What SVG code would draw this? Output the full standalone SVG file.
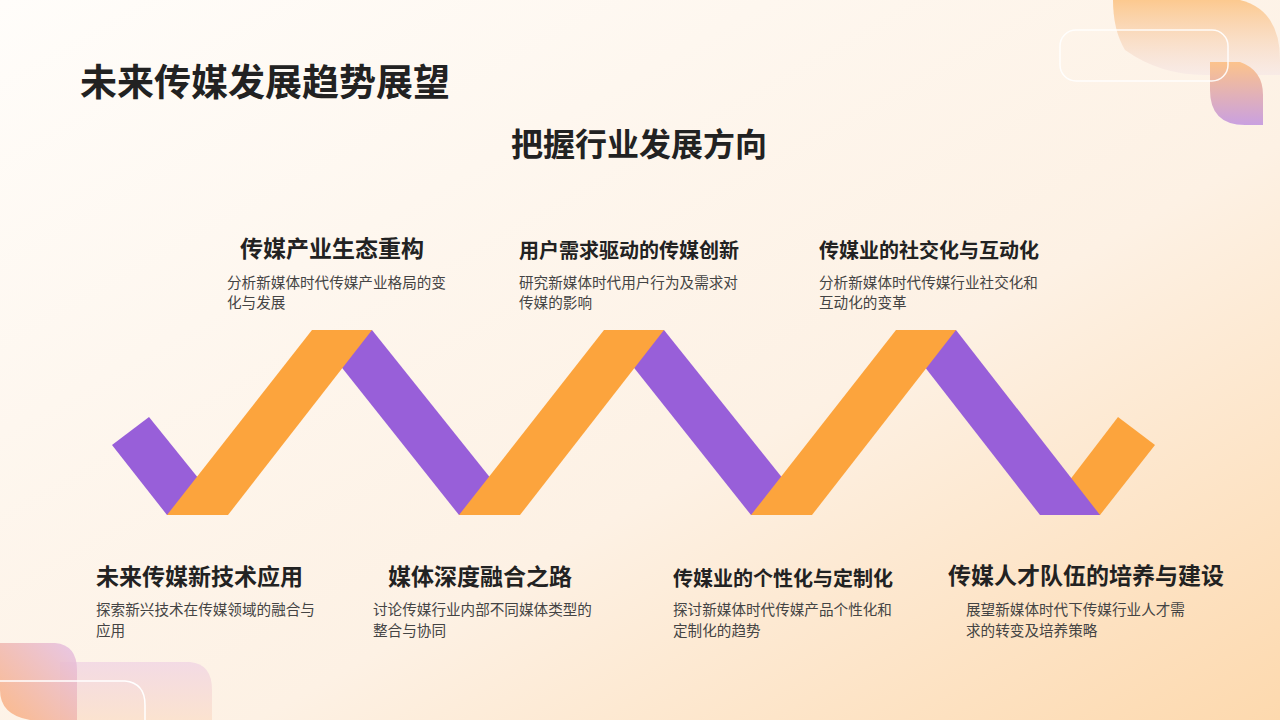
<svg xmlns="http://www.w3.org/2000/svg" width="1280" height="720" viewBox="0 0 1280 720">
<defs>
<linearGradient id="bg" x1="0" y1="0" x2="1" y2="1"><stop offset="0" stop-color="#fffdfa"/><stop offset="0.6" stop-color="#fdf1e4"/><stop offset="1" stop-color="#fdd9ae"/></linearGradient>
<linearGradient id="d1" x1="0" y1="0" x2="0" y2="1"><stop offset="0" stop-color="#fcc98f"/><stop offset="1" stop-color="#f5e6e6" stop-opacity="0.6"/></linearGradient>
<linearGradient id="d2" x1="0" y1="0" x2="0" y2="1"><stop offset="0" stop-color="#fcc38c"/><stop offset="1" stop-color="#c9a0e0"/></linearGradient>
<linearGradient id="d3" x1="1" y1="0" x2="0" y2="1"><stop offset="0" stop-color="#e4bfe6"/><stop offset="1" stop-color="#fbb07a"/></linearGradient>
<linearGradient id="d4" x1="0" y1="0" x2="0" y2="1"><stop offset="0" stop-color="#f2d8e4"/><stop offset="1" stop-color="#fbe1cd"/></linearGradient>
<style>
.t{font-family:"Noto Sans CJK SC","Noto Sans",sans-serif;font-weight:700;fill:#222}
.h{font-family:"Noto Sans CJK SC","Noto Sans",sans-serif;font-weight:700;font-size:23px;fill:#222}
.s{font-size:20px}
.d{font-family:"Noto Sans CJK SC","Noto Sans",sans-serif;font-size:14.6px;fill:#444}
.o{fill:#fca43d}.p{fill:#985fd9}
</style>
</defs>
<rect width="1280" height="720" fill="url(#bg)"/>
<path d="M1113,0 H1240 Q1280,10 1280,60 V75 H1205 Q1160,75 1125,50 Q1113,30 1113,0Z" fill="url(#d1)"/>
<path d="M1210,62 H1240 Q1263,70 1263,95 V125 H1245 Q1210,125 1210,90Z" fill="url(#d2)"/>
<rect x="1060" y="30" width="168" height="51" rx="16" fill="none" stroke="#fff" stroke-width="1.5" opacity="0.9"/>
<path d="M60,662 H190 Q212,664 212,690 V720 H60Z" fill="url(#d4)" opacity="0.9"/>
<path d="M0,643 H55 Q77,645 77,670 V720 H30 Q0,715 0,690Z" fill="url(#d3)" opacity="0.85"/>
<path d="M0,681 H125 Q145,683 145,705 V720" fill="none" stroke="#fff" stroke-width="1.5"/>
<text class="t" x="80" y="96" font-size="37">未来传媒发展趋势展望</text>
<text class="t" x="639" y="156" font-size="32" text-anchor="middle">把握行业发展方向</text>
<g id="connectors">
<polygon class="o" points="1043,515 1100,515 1155,445 1118,417"/>
<polygon class="p" points="112,445 149,417 228,515 167,515"/>
<polygon class="p" points="312,330 372,330 520,515 459,515"/>
<polygon class="p" points="604,330 664,330 812,515 751,515"/>
<polygon class="p" points="896,330 956,330 1100,515 1040,515"/>
<polygon class="o" points="167,515 228,515 372,330 312,330"/>
<polygon class="o" points="459,515 520,515 664,330 604,330"/>
<polygon class="o" points="751,515 812,515 956,330 896,330"/>
</g>
<g id="n1"><text class="h" x="240" y="257">传媒产业生态重构</text><text class="d" x="227" y="288">分析新媒体时代传媒产业格局的变</text><text class="d" x="227" y="308">化与发展</text></g>
<g id="n2"><text class="h s" x="519" y="258">用户需求驱动的传媒创新</text><text class="d" x="519" y="288">研究新媒体时代用户行为及需求对</text><text class="d" x="519" y="308">传媒的影响</text></g>
<g id="n3"><text class="h s" x="819" y="258">传媒业的社交化与互动化</text><text class="d" x="819" y="288">分析新媒体时代传媒行业社交化和</text><text class="d" x="819" y="308">互动化的变革</text></g>
<g id="n4"><text class="h" x="96" y="585">未来传媒新技术应用</text><text class="d" x="96" y="615">探索新兴技术在传媒领域的融合与</text><text class="d" x="96" y="636">应用</text></g>
<g id="n5"><text class="h" x="388" y="585">媒体深度融合之路</text><text class="d" x="373" y="615">讨论传媒行业内部不同媒体类型的</text><text class="d" x="373" y="636">整合与协同</text></g>
<g id="n6"><text class="h s" x="673" y="586">传媒业的个性化与定制化</text><text class="d" x="673" y="615">探讨新媒体时代传媒产品个性化和</text><text class="d" x="673" y="636">定制化的趋势</text></g>
<g id="n7"><text class="h" x="948" y="584" font-size="21">传媒人才队伍的培养与建设</text><text class="d" x="966" y="615">展望新媒体时代下传媒行业人才需</text><text class="d" x="966" y="636">求的转变及培养策略</text></g>
</svg>
